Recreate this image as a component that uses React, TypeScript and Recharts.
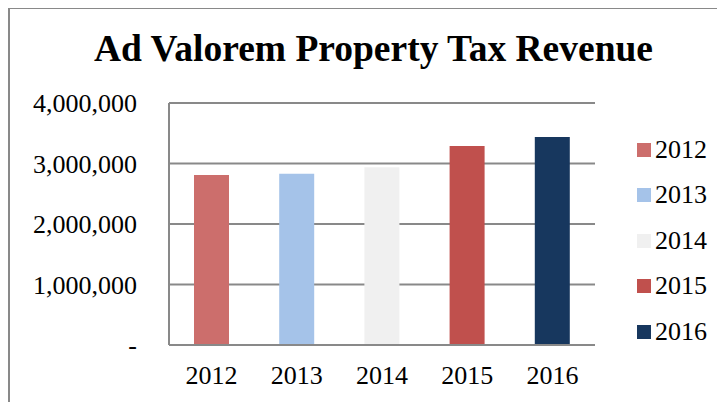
import React from "react";
import { BarChart, Bar, XAxis, YAxis, CartesianGrid, Legend, Cell } from "recharts";

const years = ["2012", "2013", "2014", "2015", "2016"];
const revenue = [2810000, 2830000, 2940000, 3290000, 3440000];
const barColors = ["#CC6E6C", "#A5C3E9", "#F0F0F0", "#C0504D", "#17375E"];
const yTicks = [0, 1000000, 2000000, 3000000, 4000000];

const FONT = "Liberation Serif";
const GRID = "#898989";

const data = years.map((year, i) => ({ year, revenue: revenue[i] }));

function formatTick(v: number) {
  return v === 0 ? "-" : v.toLocaleString("en-US");
}

function YearLegend() {
  return (
    <div style={{ fontFamily: FONT, fontSize: 26, color: "#000" }}>
      {years.map((y, i) => (
        <div key={y} style={{ height: 45.5, display: "flex", alignItems: "center" }}>
          <span style={{ width: 14, height: 14, background: barColors[i], marginRight: 4, display: "inline-block" }} />
          <span style={{ lineHeight: "26px" }}>{y}</span>
        </div>
      ))}
    </div>
  );
}

export default function App() {
  return (
    <div style={{ position: "relative", width: 717, height: 394, overflow: "hidden", fontFamily: FONT }}>
      <div
        style={{
          position: "absolute",
          left: 0,
          top: -1,
          width: 800,
          height: 500,
          border: `2px solid ${GRID}`,
        }}
      />
      <div
        style={{
          position: "absolute",
          left: 0,
          top: 22,
          width: 731,
          textAlign: "center",
          fontSize: 37.5,
          lineHeight: "38px",
          fontWeight: "bold",
          color: "#000",
        }}
      >
        Ad Valorem Property Tax Revenue
      </div>
      <div style={{ position: "absolute", left: 0, top: 0 }}>
        <BarChart width={717} height={394} data={data} margin={{ top: 95, right: 130, bottom: 27, left: 61 }}>
          <CartesianGrid vertical={false} stroke={GRID} strokeWidth={2} />
          <XAxis
            dataKey="year"
            tickLine={false}
            axisLine={{ stroke: GRID, strokeWidth: 2 }}
            tickSize={0}
            tickMargin={21}
            tick={{ fontSize: 26, fill: "#000", fontFamily: FONT }}
          />
          <YAxis
            width={100}
            domain={[0, 4000000]}
            ticks={yTicks}
            tickFormatter={formatTick}
            tickLine={false}
            axisLine={{ stroke: GRID, strokeWidth: 2 }}
            tickSize={0}
            tickMargin={32}
            tick={{ fontSize: 26, fill: "#000", fontFamily: FONT }}
          />
          <Legend
            layout="vertical"
            align="center"
            verticalAlign="middle"
            content={() => <YearLegend />}
            wrapperStyle={{ left: 629, top: 119, width: 85, height: 230 }}
          />
          <Bar dataKey="revenue" barSize={35} isAnimationActive={false}>
            {data.map((d, i) => (
              <Cell key={d.year} fill={barColors[i]} />
            ))}
          </Bar>
        </BarChart>
      </div>
    </div>
  );
}
